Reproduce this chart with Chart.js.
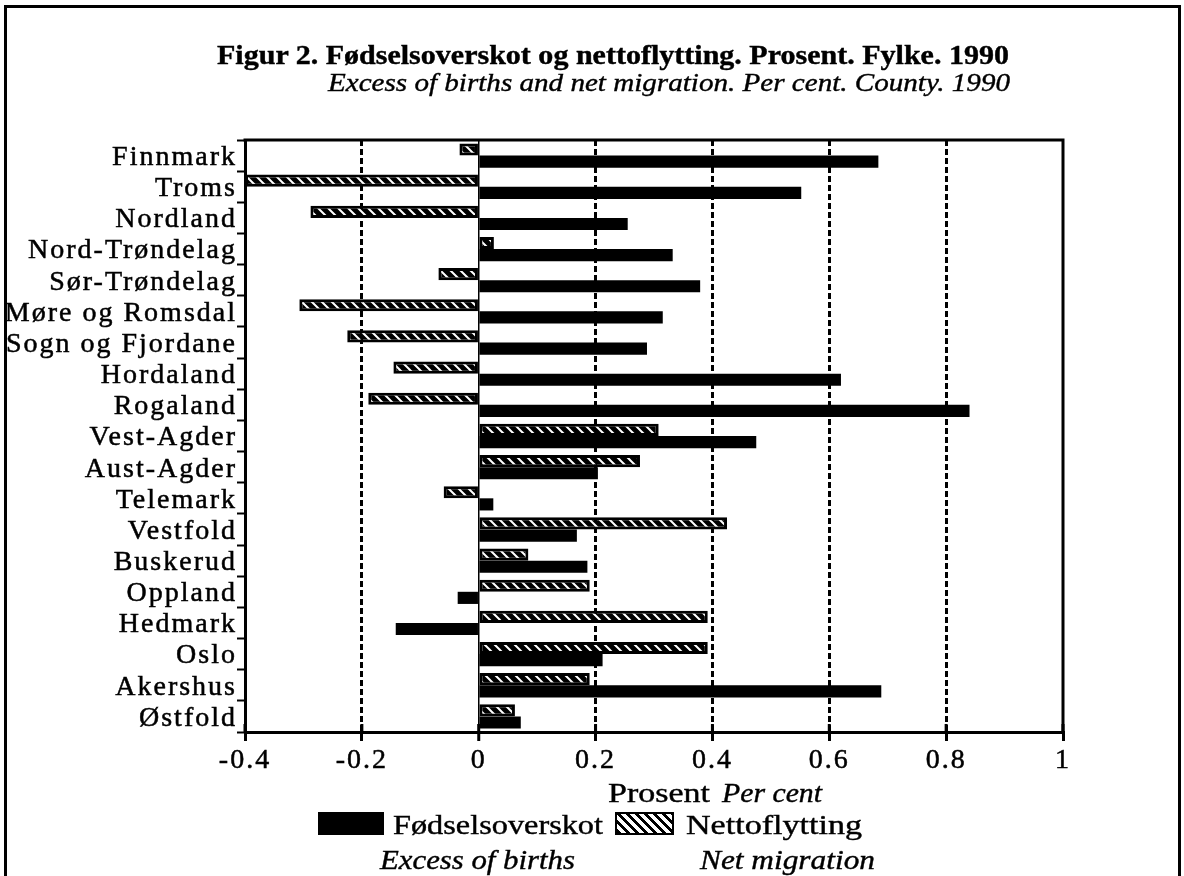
<!DOCTYPE html>
<html><head><meta charset="utf-8">
<script src="https://cdn.jsdelivr.net/npm/chart.js@4.4.1/dist/chart.umd.min.js"></script>
<style>
html,body{margin:0;padding:0;background:#fff;}
#wrap{position:relative;width:1184px;height:876px;overflow:hidden;background:#fff;}
#c{position:absolute;left:0;top:0;}
.t{position:absolute;white-space:nowrap;line-height:1;font-family:"Liberation Serif","Times New Roman",serif;color:#000;transform-origin:0 0;-webkit-text-stroke:0.4px #000;}
#frame{position:absolute;left:4px;top:5px;width:1171px;height:900px;border:3px solid #000;}
.sw{position:absolute;box-sizing:border-box;}
</style></head><body>
<div id="wrap">
<div id="frame"></div>
<canvas id="c" width="1184" height="876"></canvas>
<div class="sw" style="left:318px;top:812px;width:66px;height:23px;background:#000;"></div>
<div class="sw" style="left:615px;top:812px;width:59px;height:23px;border:2px solid #000;background:repeating-linear-gradient(45deg,#000 0 3px,#fff 3px 6.4px);"></div>
</div>
<script>
const counties = ['Finnmark','Troms','Nordland','Nord-Trøndelag','Sør-Trøndelag','Møre og Romsdal','Sogn og Fjordane','Hordaland','Rogaland','Vest-Agder','Aust-Agder','Telemark','Vestfold','Buskerud','Oppland','Hedmark','Oslo','Akershus','Østfold'];
const excessOfBirths = [0.684,0.552,0.255,0.332,0.379,0.315,0.288,0.620,0.840,0.475,0.204,0.025,0.168,0.186,-0.036,-0.142,0.212,0.689,0.072];
const netMigration = [-0.033,-0.400,-0.288,0.026,-0.069,-0.307,-0.225,-0.146,-0.189,0.308,0.276,-0.060,0.425,0.085,0.190,0.392,0.392,0.190,0.062];
const xTicks = [-0.4,-0.2,0,0.2,0.4,0.6,0.8,1];
const xTickLabels = ['-0.4','-0.2','0','0.2','0.4','0.6','0.8','1'];

const FAM = '"Liberation Serif","Times New Roman",serif';
const wrap = document.getElementById('wrap');
function place(text, left, right, baseline, fs, style, weight){
  const el = document.createElement('div');
  el.className = 't';
  el.textContent = text;
  el.style.fontSize = fs + 'px';
  el.style.fontStyle = style || 'normal';
  el.style.fontWeight = weight || 'normal';
  wrap.appendChild(el);
  const w = el.getBoundingClientRect().width;
  el.style.left = left + 'px';
  el.style.top = (baseline - 0.8375 * fs) + 'px';
  el.style.transform = 'scaleX(' + ((right - left) / w) + ')';
}
place('Figur 2. Fødselsoverskot og nettoflytting. Prosent. Fylke. 1990', 217, 1009, 65, 27, 'normal', 'bold');
place('Excess of births and net migration. Per cent. County. 1990', 328, 1010, 92, 26, 'italic');
place('Prosent', 608, 710, 803, 27);
place('Per cent', 722, 822, 803, 27, 'italic');
place('Fødselsoverskot', 393, 603, 835, 27);
place('Nettoflytting', 686, 862, 835, 27);
place('Excess of births', 380, 575, 870, 27, 'italic');
place('Net migration', 700, 875, 870, 27, 'italic');

const canvas = document.getElementById('c');
const ctx = canvas.getContext('2d');
const pc = document.createElement('canvas');
pc.width = 10; pc.height = 10;
const p = pc.getContext('2d');
p.fillStyle = '#000'; p.fillRect(0,0,10,10);
p.strokeStyle = '#fff'; p.lineWidth = 2;
p.beginPath();
p.moveTo(-2,-2); p.lineTo(12,12);
p.moveTo(-2,8); p.lineTo(2,12);
p.moveTo(8,-2); p.lineTo(12,2);
p.stroke();
const hatch = ctx.createPattern(pc, 'repeat');

function tv(c){ return (c && c.tick) ? Math.round(c.tick.value * 10) : null; }

const lsPlugin = {
  id: 'ls',
  beforeUpdate(ch){ ch.ctx.letterSpacing = '2px'; },
  beforeDraw(ch){ ch.ctx.letterSpacing = '2px'; }
};
const framePlugin = {
  id: 'frm',
  afterDraw(ch){
    const c = ch.ctx, a = ch.chartArea, xs = ch.scales.x;
    c.save();
    c.strokeStyle = '#000'; c.lineWidth = 3; c.setLineDash([]);
    c.beginPath();
    c.moveTo(a.left - 1.5, a.top); c.lineTo(a.right, a.top); c.lineTo(a.right, a.bottom + 1.5);
    c.stroke();
    c.beginPath();
    xs.ticks.forEach(t => {
      const x = xs.getPixelForValue(t.value);
      c.moveTo(x, a.bottom - 8); c.lineTo(x, a.bottom);
    });
    c.stroke();
    c.restore();
  }
};

new Chart(ctx, {
  type: 'bar',
  data: {
    labels: counties,
    datasets: [
      { label: 'Nettoflytting', data: netMigration, backgroundColor: hatch, borderColor: '#000', borderWidth: 3, borderSkipped: false, categoryPercentage: 0.78, barPercentage: 1 },
      { label: 'Fødselsoverskot', data: excessOfBirths, backgroundColor: '#000', borderWidth: 0, categoryPercentage: 0.78, barPercentage: 1 }
    ]
  },
  options: {
    indexAxis: 'y',
    responsive: false,
    animation: false,
    devicePixelRatio: 1,
    layout: { padding: { left: 0, top: 140, right: 121, bottom: 94 } },
    plugins: { legend: { display: false }, tooltip: { enabled: false }, title: { display: false } },
    scales: {
      x: {
        type: 'linear', min: -0.4, max: 1,
        afterBuildTicks: s => { s.ticks = xTicks.map(v => ({ value: v })); },
        afterFit: s => { s.height = 50; },
        ticks: { callback: (v, i) => xTickLabels[i], font: { family: FAM, size: 28 }, color: '#000', padding: 3, maxRotation: 0, autoSkip: false, textStrokeColor: '#000', textStrokeWidth: 0.5 },
        grid: {
          color: c => { const v = tv(c); return (v === -4 || v === 10) ? 'rgba(0,0,0,0)' : '#000'; },
          lineWidth: c => (tv(c) === 0 ? 1.5 : 3),
          drawTicks: true, tickLength: 9, tickWidth: 3, tickColor: '#000'
        },
        border: { display: true, color: '#000', width: 3, dash: c => { const v = tv(c); return (v === null || v === 0) ? [] : [6, 3]; } }
      },
      y: {
        type: 'category',
        afterFit: s => { s.width = 245; },
        ticks: { font: { family: FAM, size: 28 }, color: '#000', padding: 0, autoSkip: false, labelOffset: 2, textStrokeColor: '#000', textStrokeWidth: 0.5 },
        grid: { offset: true, drawOnChartArea: false, drawTicks: true, tickLength: 8, tickWidth: 2, tickColor: '#000', color: '#000' },
        border: { display: true, color: '#000', width: 3 }
      }
    }
  },
  plugins: [lsPlugin, framePlugin]
});
</script>
</body></html>
